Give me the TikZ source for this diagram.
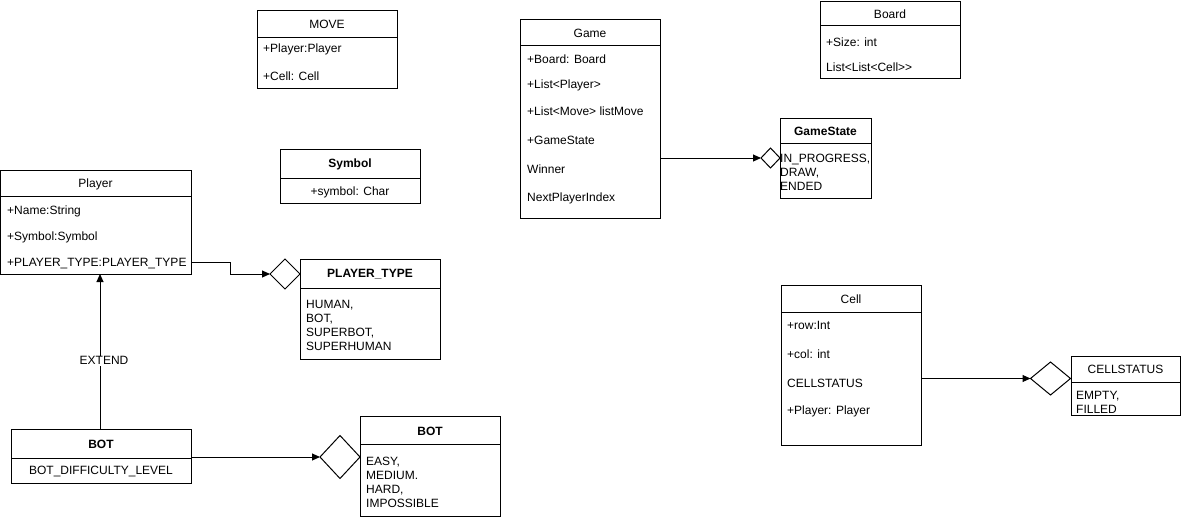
\documentclass[tikz,border=0pt]{standalone}
\usepackage{fontspec}
\setmainfont{Liberation Sans}
\usetikzlibrary{arrows.meta,shapes.geometric}
\begin{document}
\begin{tikzpicture}[x=1pt,y=-1pt,
  box/.style={draw, line width=1pt, anchor=north west, inner sep=0pt, outer sep=0pt},
  txt/.style={anchor=west, inner sep=0pt, yshift=-1.5pt, font=\fontsize{12}{14}\selectfont},
  enumtxt/.style={anchor=west, inner sep=0pt, yshift=-1pt, align=left, font=\fontsize{12}{14}\selectfont},
  ctr/.style={inner sep=0pt, yshift=-1.5pt, font=\fontsize{12}{14}\selectfont},
  hb/.style={inner sep=0pt, yshift=-1.5pt, font=\fontsize{12}{14}\selectfont\bfseries},
  dia/.style={draw, diamond, line width=1pt, inner sep=0pt, outer sep=0pt},
  divline/.style={line width=1pt},
  conn/.style={draw, line width=1pt, -{Triangle[length=8pt,width=7pt]}},
  lbl/.style={fill=white, inner sep=1pt, xshift=4pt, font=\fontsize{12}{14}\selectfont}
]
\useasboundingbox (0,0) rectangle (1181,517);

% MOVE
\node[box, minimum width=140pt, minimum height=78pt] (move) at (257,10) {};
\draw[divline] (257,37) -- (397,37);
\node[ctr] (moveh) at (327,23) {MOVE};
\node[txt] (move1) at (263,48) {+Player:Player};
\node[txt] (move2) at (263,75) {+Cell: Cell};

% Game
\node[box, minimum width=140pt, minimum height=199pt] (game) at (520,19) {};
\draw[divline] (520,45) -- (660,45);
\node[ctr] (gameh) at (590,32) {Game};
\node[txt] (game1) at (527,58) {+Board: Board};
\node[txt] (game2) at (527,84) {+List<Player>};
\node[txt] (game3) at (527,110) {+List<Move> listMove};
\node[txt] (game4) at (527,139) {+GameState};
\node[txt] (game5) at (527,168) {Winner};
\node[txt] (game6) at (527,197) {NextPlayerIndex};

% Board
\node[box, minimum width=140pt, minimum height=77pt] (board) at (820,1) {};
\draw[divline] (820,25) -- (960,25);
\node[ctr] (boardh) at (890,13) {Board};
\node[txt] (board1) at (826,41) {+Size: int};
\node[txt] (board2) at (826,66) {List<List<Cell>{}>};

% GameState
\node[box, minimum width=91pt, minimum height=80pt] (gs) at (780,118) {};
\draw[divline] (780,143) -- (871,143);
\node[hb] (gsh) at (825.5,130) {GameState};
\node[enumtxt] (gsl) at (780,171) {IN\_PROGRESS,\\DRAW,\\ENDED};
\node[dia, minimum width=19pt, minimum height=20pt] (gsd) at (770.5,158) {};
\draw[conn] (game.east |- gsd) -- (gsd.west);

% Symbol
\node[box, minimum width=140pt, minimum height=54pt] (sym) at (280,149) {};
\draw[divline] (280,178) -- (420,178);
\node[hb] (symh) at (350,163) {Symbol};
\node[ctr] (sym1) at (350,191) {+symbol: Char};

% Player
\node[box, minimum width=190.5pt, minimum height=104pt] (player) at (0.5,170) {};
\draw[divline] (0.5,196) -- (191,196);
\node[ctr] (playerh) at (95.5,183) {Player};
\node[txt] (player1) at (7,210) {+Name:String};
\node[txt] (player2) at (7,236) {+Symbol:Symbol};
\node[txt] (player3) at (7,262) {+PLAYER\_TYPE:PLAYER\_TYPE};

% PLAYER_TYPE
\node[box, minimum width=140pt, minimum height=100pt] (pt) at (300,259) {};
\draw[divline] (300,288) -- (440,288);
\node[hb] (pth) at (370,273) {PLAYER\_TYPE};
\node[enumtxt] (ptl) at (306,324) {HUMAN,\\BOT,\\SUPERBOT,\\SUPERHUMAN};
\node[dia, minimum width=30pt, minimum height=30pt] (ptd) at (285,274) {};
\draw[conn] (player.east |- 0,262) -- (230,262) |- (ptd.west);

% BOT (class)
\node[box, minimum width=180pt, minimum height=54pt] (bot) at (11,429) {};
\draw[divline] (11,458) -- (191,458);
\node[hb] (both) at (101,443) {BOT};
\node[ctr] (bot1) at (101,470) {BOT\_DIFFICULTY\_LEVEL};
\draw[conn] (100,429) -- node[lbl, pos=0.44] (ext) {EXTEND} (100,274);

% BOT (enum)
\node[box, minimum width=140pt, minimum height=100pt] (bote) at (360,416) {};
\draw[divline] (360,444) -- (500,444);
\node[hb] (boteh) at (430,430) {BOT};
\node[enumtxt] (botel) at (366,481.5) {EASY,\\MEDIUM.\\HARD,\\IMPOSSIBLE};
\node[dia, minimum width=40pt, minimum height=43pt] (botd) at (340,457) {};
\draw[conn] (bot.east |- botd) -- (botd.west);

% Cell
\node[box, minimum width=140pt, minimum height=160pt] (cell) at (781,285) {};
\draw[divline] (781,312) -- (921,312);
\node[ctr] (cellh) at (851,298) {Cell};
\node[txt] (cell1) at (787,324) {+row:Int};
\node[txt] (cell2) at (787,353) {+col: int};
\node[txt] (cell3) at (787,382) {CELLSTATUS};
\node[txt] (cell4) at (787,410) {+Player: Player};

% CELLSTATUS
\node[box, minimum width=109pt, minimum height=59pt] (cs) at (1071,356) {};
\draw[divline] (1071,382) -- (1180,382);
\node[ctr] (csh) at (1125.5,368) {CELLSTATUS};
\node[enumtxt] (csl) at (1076,401.5) {EMPTY,\\FILLED};
\node[dia, minimum width=40pt, minimum height=33pt] (csd) at (1050.5,378.5) {};
\draw[conn] (cell.east |- csd) -- (csd.west);
\end{tikzpicture}
\end{document}
